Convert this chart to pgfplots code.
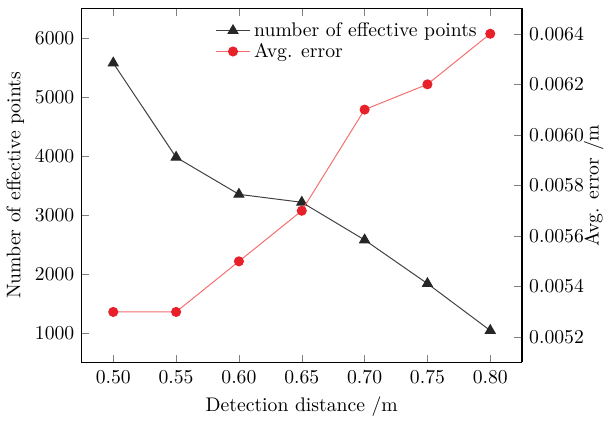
\documentclass[border=0pt]{standalone}
\usepackage{pgfplots}
\pgfplotsset{compat=1.18}
\definecolor{ptred}{RGB}{232,32,42}
\definecolor{ptline}{RGB}{245,110,110}
\begin{document}
\begin{tikzpicture}
\pgfplotsset{
  every axis/.append style={
    scale only axis, width=224pt, height=180pt,
    xmin=0.4747, xmax=0.8253,
    tick align=inside, major tick length=4pt,
    line width=0.6pt,
  },
}
\begin{axis}[
  axis y line*=left, axis x line*=box,
  ymin=500, ymax=6500,
  ytick={1000,2000,3000,4000,5000,6000},
  yticklabel style={/pgf/number format/1000 sep={}},
  xtick={0.50,0.55,0.60,0.65,0.70,0.75,0.80},
  xticklabel style={/pgf/number format/fixed, /pgf/number format/fixed zerofill,
    /pgf/number format/precision=2, yshift=-0.5pt},
  scaled x ticks=false,
  xlabel={Detection distance /m},
  xlabel style={yshift=0pt},
  ylabel={Number of effective points},
  ylabel style={yshift=-1.5pt},
  legend style={draw=none, fill=none, at={(0.29,0.985)}, anchor=north west,
    font=\normalsize, row sep=-2pt},
  legend cell align=left,
]
\addplot[color=black!75, line width=0.5pt, mark=triangle*, mark size=2.9pt,
  mark options={fill=black!85, draw=black!85}]
  coordinates {(0.50,5575) (0.55,3978) (0.60,3350) (0.65,3215) (0.70,2577) (0.75,1837) (0.80,1042)};
\addlegendentry{number of effective points}
\addlegendimage{color=ptline, line width=0.5pt, mark=*, mark size=2.3pt,
  mark options={fill=ptred, draw=ptred}}
\addlegendentry{Avg. error}
\end{axis}
\begin{axis}[
  axis y line*=right, axis x line=none,
  ymin=0.0051, ymax=0.0065,
  ytick={0.0052,0.0054,0.0056,0.0058,0.0060,0.0062,0.0064},
  yticklabel style={/pgf/number format/fixed, /pgf/number format/fixed zerofill,
    /pgf/number format/precision=4},
  scaled y ticks=false,
  ylabel={Avg. error /m},
  ylabel style={yshift=7pt},
]
\addplot[color=ptline, line width=0.5pt, mark=*, mark size=2.3pt,
  mark options={fill=ptred, draw=ptred}]
  coordinates {(0.50,0.0053) (0.55,0.0053) (0.60,0.0055) (0.65,0.0057) (0.70,0.0061) (0.75,0.0062) (0.80,0.0064)};
\end{axis}
\path (current bounding box.north) ++(0,4pt);
\end{tikzpicture}
\end{document}
